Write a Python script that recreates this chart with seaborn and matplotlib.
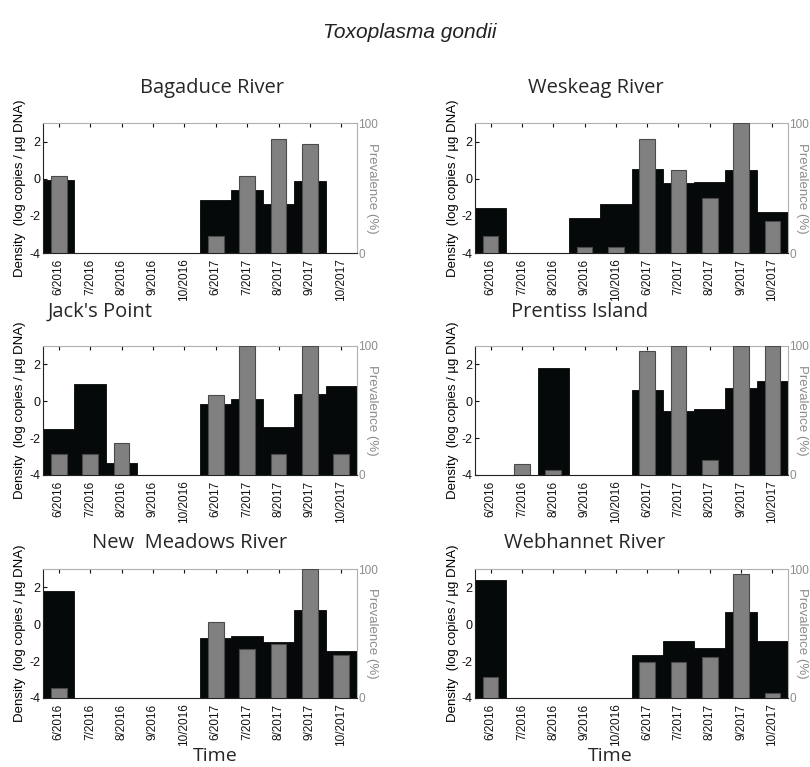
import numpy as np
import pandas as pd
import matplotlib
matplotlib.use("Agg")
import matplotlib.pyplot as plt
import seaborn as sns

sns.set_style("white")
plt.rcParams['font.family'] = ['Liberation Sans', 'DejaVu Sans']

nan = np.nan
months = ['6/2016', '7/2016', '8/2016', '9/2016', '10/2016',
          '6/2017', '7/2017', '8/2017', '9/2017', '10/2017']

sites = ['Bagaduce River', 'Weskeag River', "Jack's Point",
         'Prentiss Island', 'New  Meadows River', 'Webhannet River']

bagaduce_density = [-0.09, nan, nan, nan, nan, -1.16, -0.63, -1.34, -0.14, nan]
bagaduce_prevalence = [59, nan, nan, nan, nan, 12.8, 59, 87.7, 84, nan]

weskeag_density = [-1.55, nan, nan, -2.09, -1.34, 0.54, -0.21, -0.18, 0.45, -1.79]
weskeag_prevalence = [12.8, nan, nan, 4.6, 4.6, 87.7, 63.6, 42, 100, 25]

jacks_density = [-1.51, 0.95, -3.33, nan, nan, -0.13, 0.13, -1.40, 0.40, 0.82]
jacks_prevalence = [16, 16, 24.5, nan, nan, 62, 100, 16, 100, 16]

prentiss_density = [nan, nan, 1.82, nan, nan, 0.60, -0.51, -0.40, 0.71, 1.09]
prentiss_prevalence = [nan, 8.3, 3.9, nan, nan, 96, 100, 12, 100, 100]

newmeadows_density = [1.78, nan, nan, nan, nan, -0.73, -0.64, -0.95, 0.75, -1.45]
newmeadows_prevalence = [7.8, nan, nan, nan, nan, 58.7, 37.7, 41.8, 100, 33]

webhannet_density = [2.38, nan, nan, nan, nan, -1.64, -0.89, -1.27, 0.65, -0.91]
webhannet_prevalence = [16.4, nan, nan, nan, nan, 28, 28, 32, 96.4, 3.9]

densities = [bagaduce_density, weskeag_density, jacks_density,
             prentiss_density, newmeadows_density, webhannet_density]
prevalences = [bagaduce_prevalence, weskeag_prevalence, jacks_prevalence,
               prentiss_prevalence, newmeadows_prevalence, webhannet_prevalence]

W, H = 810, 767
fig = plt.figure(figsize=(W / 100, H / 100), dpi=100)

col_x = [43, 475]
col_w = [314, 313]
row_top = [123, 346, 569]
row_h = [130, 129, 129]

title_pos = [(212, 88), (596, 88), (100, 312), (580, 312), (190, 543), (585, 543)]
ylab_x = [20, 453]
prevlab_x = [372, 802]

BLACK = '#060909'
GRAY = '#808080'
LGRAY = '#8c8c8c'
title_font = ['Open Sans', 'DejaVu Sans']

for i, site in enumerate(sites):
    r, c = divmod(i, 2)
    left = col_x[c] / W
    bottom = 1 - (row_top[r] + row_h[r]) / H
    ax = fig.add_axes([left, bottom, col_w[c] / W, row_h[r] / H])
    dens = np.array(densities[i], dtype=float)
    ax.bar(months, dens + 4, bottom=-4, width=1.0, color=BLACK,
           edgecolor=BLACK, linewidth=0.6, zorder=2)
    ax.set_ylim(-4, 3)
    ax.set_xlim(-0.5, 9.5)
    ax.set_yticks([-4, -2, 0, 2])
    ax.set_yticklabels(['-4', '-2', '0', '2'])
    ax.tick_params(axis='y', direction='in', length=3, labelsize=9,
                   colors='#111111', right=True, pad=2)
    ax.tick_params(axis='x', direction='in', length=3, labelsize=8.5,
                   colors='#111111', top=True, labelrotation=90, pad=4)
    for s in ['left', 'bottom']:
        ax.spines[s].set_color('#222222')
        ax.spines[s].set_linewidth(0.8)
    for s in ['top', 'right']:
        ax.spines[s].set_color('#b0b0b0')
        ax.spines[s].set_linewidth(0.8)

    ax2 = ax.twinx()
    df = pd.DataFrame({'month': months, 'prev': prevalences[i]})
    sns.barplot(data=df, x='month', y='prev', order=months, ax=ax2,
                width=0.5, color=GRAY, saturation=1, edgecolor='#4a4a4a',
                linewidth=0.8, errorbar=None)
    ax2.set_ylim(0, 100)
    ax2.set_xlim(-0.5, 9.5)
    ax2.set_yticks([0, 100])
    ax2.set_yticklabels(['0', '100'])
    ax2.tick_params(axis='y', direction='in', length=0, labelsize=8.5,
                    colors=LGRAY, pad=1)
    ax2.set_xlabel('')
    ax2.set_ylabel('')
    for s in ax2.spines.values():
        s.set_visible(False)
    ax.set_xlabel('')
    ax.set_ylabel('')

    fig.text(title_pos[i][0] / W, 1 - title_pos[i][1] / H, site,
             ha='center', va='center', fontsize=14.5, family=title_font)
    yc = 1 - (row_top[r] + row_h[r] / 2) / H
    fig.text(ylab_x[c] / W, yc, 'Density  (log copies / µg DNA)',
             rotation=90, ha='center', va='center', fontsize=9.5,
             color='#000000')
    fig.text(prevlab_x[c] / W, yc, 'Prevalence (%)', rotation=270,
             ha='center', va='center', fontsize=9.5, color=LGRAY)

fig.text(410 / W, 1 - 32 / H, 'Toxoplasma gondii', ha='center', va='center',
         fontsize=15, style='italic', color='#222222')
for x in [215, 610]:
    fig.text(x / W, 1 - 756 / H, 'Time', ha='center', va='center',
             fontsize=14, family=title_font)

fig.savefig('out.png', dpi=100)
